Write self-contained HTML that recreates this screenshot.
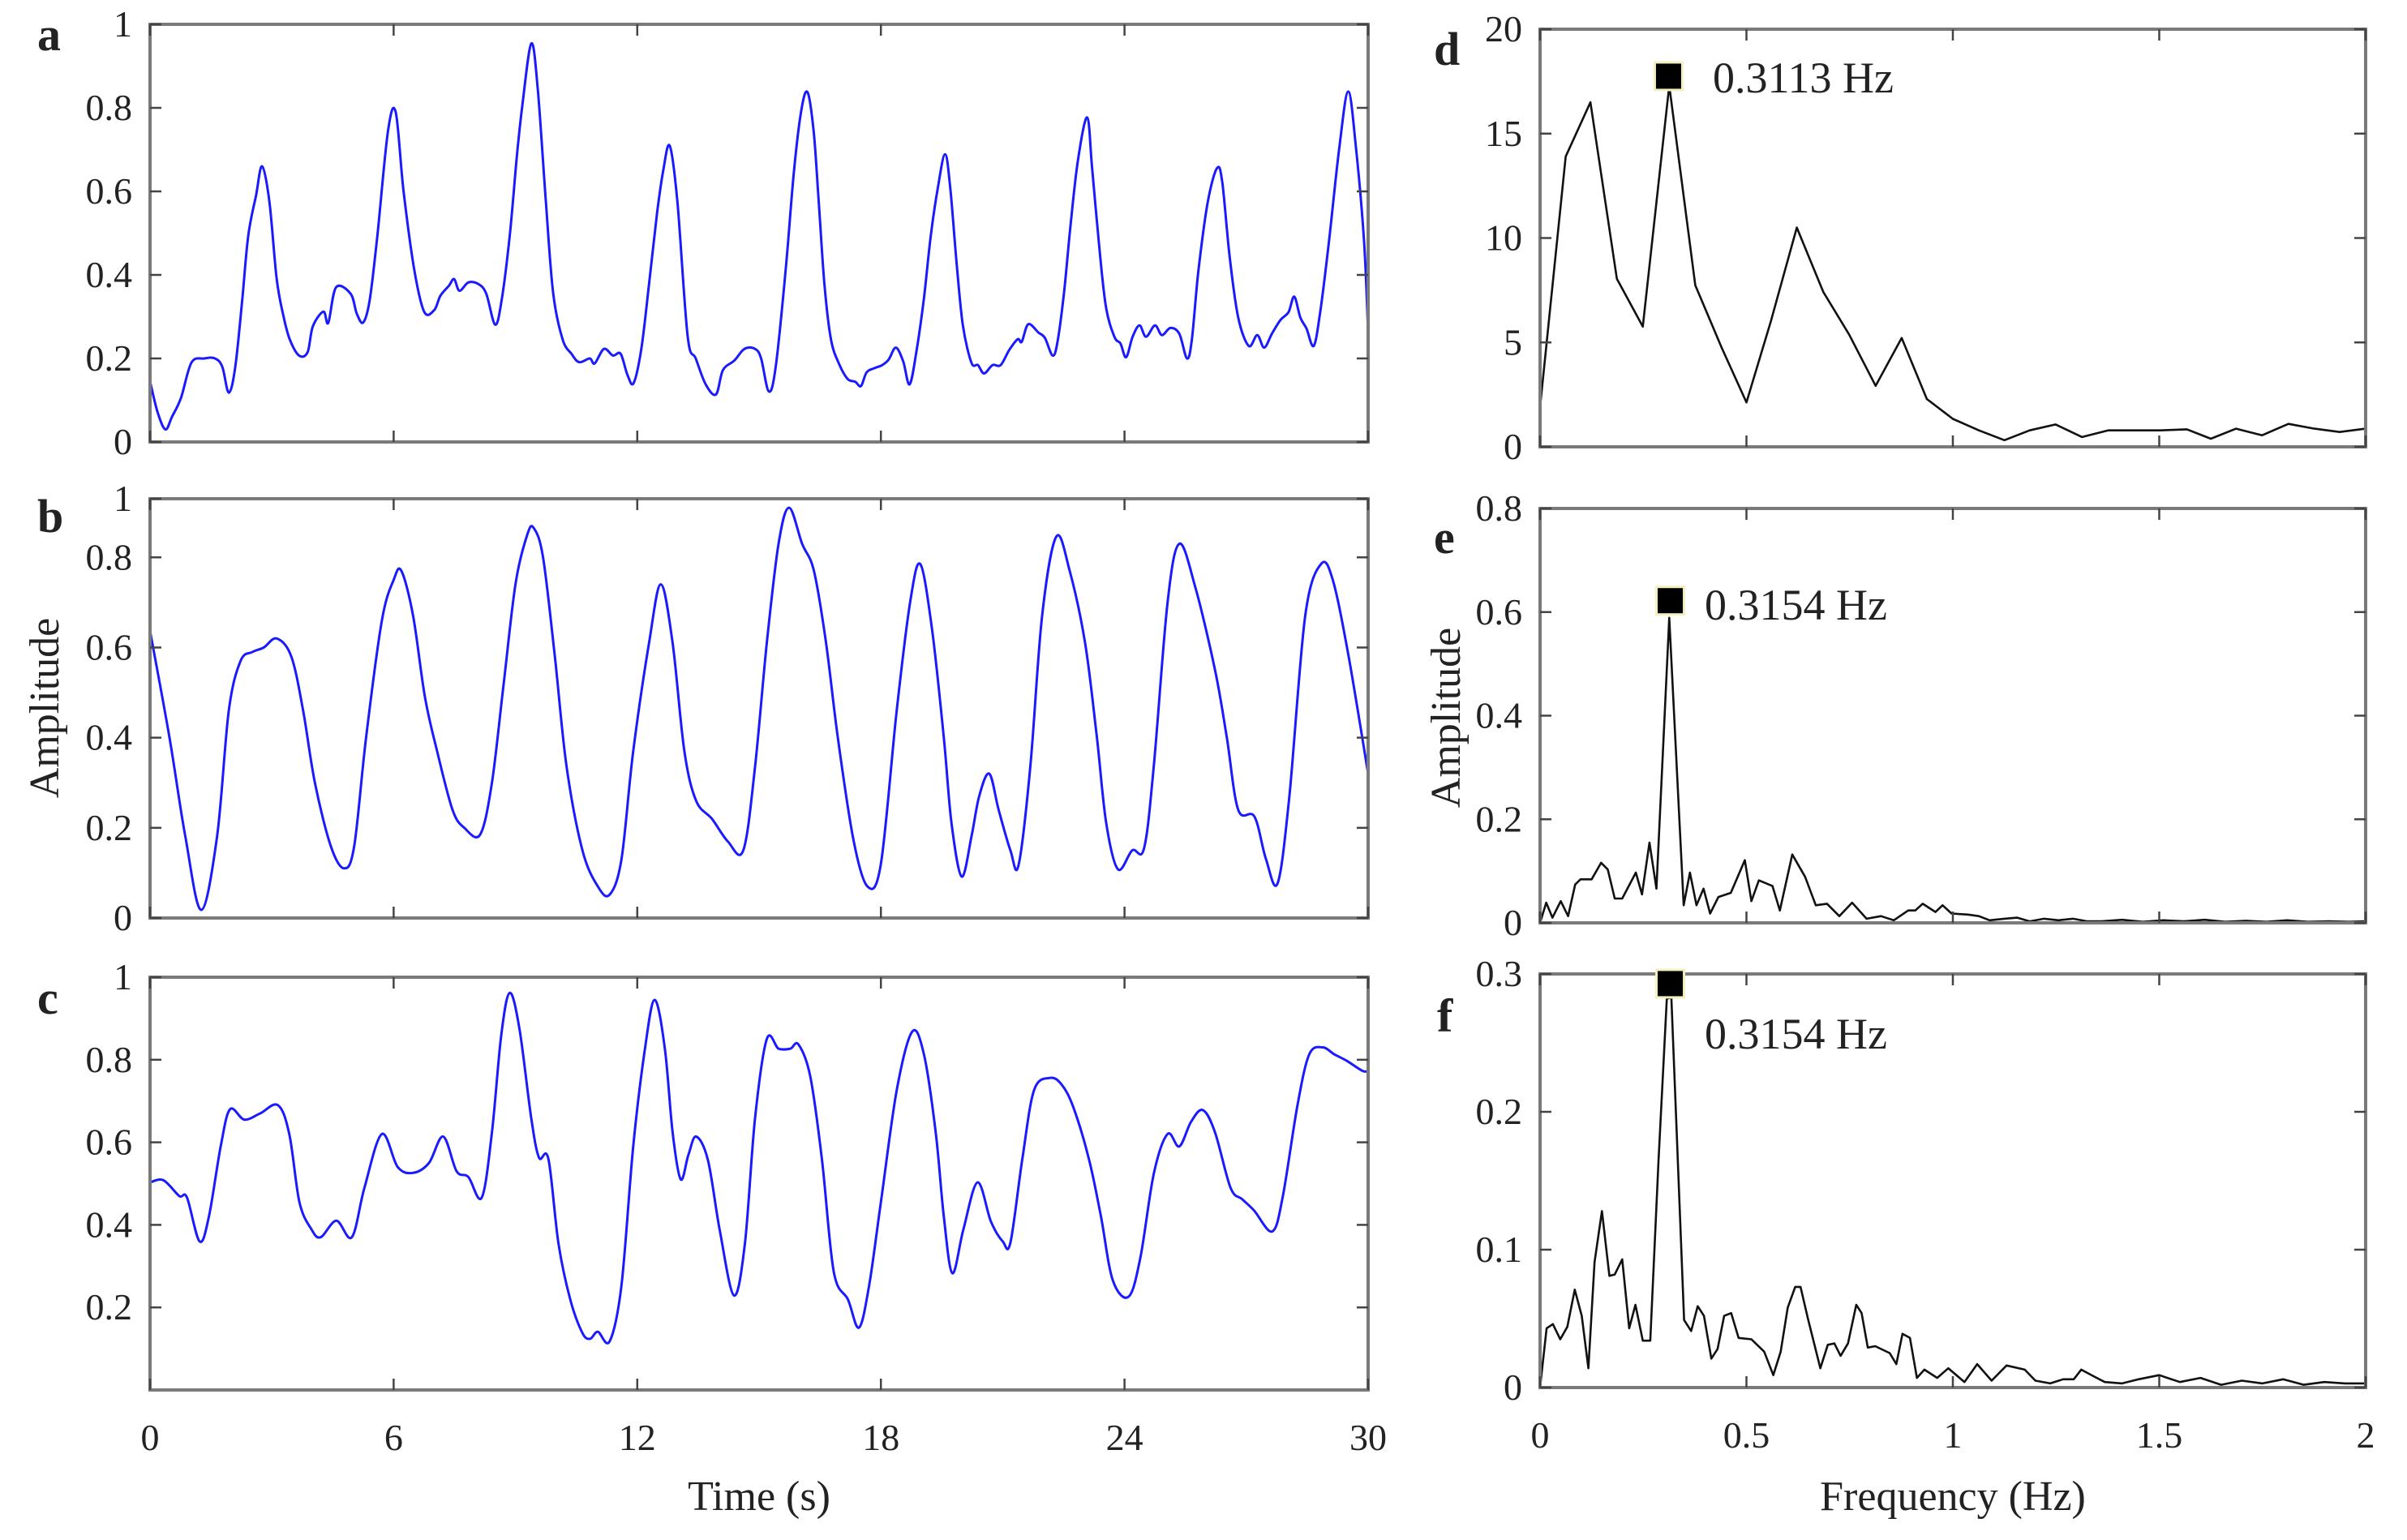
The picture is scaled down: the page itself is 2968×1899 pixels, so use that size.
<!DOCTYPE html>
<html><head><meta charset="utf-8"><title>Signals and spectra</title>
<style>
html,body{margin:0;padding:0;background:#fff;}
svg{display:block;}
text{font-family:"Liberation Serif","DejaVu Serif",serif;fill:#222;}
</style></head>
<body>
<svg id="fig" width="2968" height="1899" viewBox="0 0 2968 1899" xmlns="http://www.w3.org/2000/svg">
<rect x="0" y="0" width="2968" height="1899" fill="#fff"/>
</svg>
<script>
// ---------- data ----------
const aT=[0,0.19,0.38,0.54,0.76,1.02,1.34,1.6,1.78,1.94,2.1,2.27,2.42,2.61,2.76,2.94,3.12,3.29,3.44,3.67,3.88,4.01,4.27,4.39,4.58,4.94,5.09,5.25,5.41,5.6,5.86,6.05,6.24,6.5,6.75,7.0,7.15,7.36,7.49,7.62,7.84,8.09,8.28,8.5,8.66,8.86,9.04,9.17,9.39,9.55,9.75,9.93,10.16,10.38,10.57,10.83,10.95,11.18,11.4,11.59,11.76,11.91,12.1,12.29,12.49,12.64,12.8,12.99,13.24,13.44,13.69,13.94,14.11,14.39,14.64,14.9,15.05,15.24,15.41,15.66,15.86,16.05,16.2,16.35,16.47,16.61,16.77,16.97,17.18,17.37,17.51,17.65,17.85,18.03,18.19,18.37,18.55,18.71,18.89,19.06,19.23,19.4,19.58,19.71,19.87,20.02,20.23,20.39,20.54,20.75,20.95,21.16,21.37,21.47,21.63,21.88,22.04,22.23,22.35,22.51,22.66,22.85,23.08,23.2,23.37,23.54,23.75,23.9,24.04,24.2,24.37,24.53,24.75,24.92,25.13,25.35,25.54,25.66,25.82,26.05,26.28,26.41,26.59,26.8,27.06,27.27,27.44,27.63,27.84,28.04,28.18,28.33,28.48,28.66,28.82,29.03,29.29,29.51,29.7,29.9,30];
const aV=[0.145,0.07,0.03,0.06,0.105,0.19,0.2,0.2,0.18,0.118,0.18,0.34,0.495,0.59,0.66,0.575,0.39,0.30,0.246,0.207,0.215,0.277,0.312,0.285,0.37,0.355,0.308,0.286,0.34,0.495,0.744,0.79,0.604,0.417,0.312,0.316,0.35,0.374,0.39,0.362,0.382,0.378,0.355,0.281,0.34,0.495,0.69,0.806,0.954,0.845,0.573,0.355,0.246,0.211,0.191,0.2,0.188,0.223,0.207,0.211,0.16,0.141,0.223,0.378,0.55,0.65,0.709,0.573,0.254,0.2,0.137,0.114,0.172,0.195,0.223,0.223,0.2,0.121,0.18,0.417,0.65,0.8,0.836,0.738,0.574,0.377,0.246,0.187,0.151,0.144,0.134,0.167,0.177,0.184,0.197,0.226,0.193,0.138,0.226,0.344,0.495,0.607,0.689,0.607,0.423,0.279,0.19,0.184,0.164,0.184,0.184,0.22,0.246,0.24,0.282,0.262,0.249,0.207,0.24,0.357,0.508,0.672,0.777,0.659,0.475,0.325,0.252,0.236,0.203,0.252,0.279,0.252,0.279,0.256,0.273,0.259,0.2,0.246,0.41,0.574,0.656,0.62,0.443,0.298,0.23,0.256,0.226,0.259,0.292,0.311,0.348,0.298,0.272,0.23,0.311,0.475,0.705,0.839,0.705,0.48,0.26];

const bT=[0,0.48,0.87,1.26,1.65,1.94,2.23,2.52,2.8,3.12,3.48,3.77,4.06,4.45,4.78,5.03,5.32,5.71,6.0,6.19,6.48,6.77,7.07,7.45,7.74,8.13,8.42,8.71,9.0,9.29,9.45,9.68,9.97,10.26,10.65,11.03,11.32,11.61,11.9,12.29,12.58,12.87,13.16,13.45,13.84,14.23,14.61,14.9,15.19,15.48,15.74,16.06,16.35,16.65,16.94,17.32,17.67,18.0,18.39,18.72,18.97,19.26,19.55,19.74,19.99,20.23,20.42,20.67,20.9,21.19,21.39,21.68,21.97,22.32,22.65,23.03,23.32,23.55,23.84,24.19,24.48,24.72,25.06,25.35,25.74,26.23,26.52,26.8,27.2,27.48,27.77,28.06,28.45,28.84,29.13,29.52,30];
const bV=[0.637,0.40,0.18,0.018,0.18,0.46,0.57,0.59,0.60,0.62,0.58,0.46,0.30,0.16,0.11,0.16,0.40,0.66,0.75,0.77,0.67,0.49,0.37,0.24,0.20,0.185,0.30,0.52,0.74,0.85,0.865,0.80,0.58,0.335,0.15,0.07,0.052,0.13,0.37,0.61,0.74,0.61,0.37,0.26,0.22,0.17,0.15,0.335,0.61,0.83,0.91,0.83,0.77,0.61,0.40,0.175,0.07,0.12,0.46,0.70,0.785,0.64,0.40,0.21,0.092,0.18,0.27,0.32,0.24,0.15,0.117,0.335,0.67,0.846,0.77,0.61,0.40,0.21,0.108,0.15,0.154,0.335,0.70,0.83,0.735,0.55,0.40,0.24,0.225,0.132,0.077,0.27,0.67,0.785,0.75,0.58,0.32];

const cT=[0,0.33,0.72,0.91,1.22,1.45,1.74,1.97,2.32,2.71,3.15,3.43,3.68,3.97,4.2,4.59,4.97,5.28,5.71,6.1,6.48,6.87,7.22,7.55,7.84,8.17,8.42,8.65,8.86,9.1,9.39,9.58,9.81,10.06,10.35,10.65,10.84,11.03,11.32,11.61,11.9,12.19,12.43,12.68,12.87,13.07,13.26,13.45,13.74,14.03,14.38,14.65,14.9,15.19,15.48,15.77,15.97,16.26,16.55,16.84,17.19,17.46,17.71,18.0,18.39,18.77,19.06,19.35,19.55,19.76,20.03,20.38,20.71,21.0,21.19,21.48,21.77,22.16,22.45,22.74,23.13,23.42,23.71,24.1,24.39,24.72,25.06,25.35,25.64,25.93,26.23,26.61,26.9,27.19,27.64,27.9,28.26,28.55,28.88,29.17,29.48,29.86,30];
const cV=[0.503,0.508,0.47,0.466,0.36,0.42,0.59,0.68,0.655,0.67,0.69,0.62,0.455,0.39,0.37,0.41,0.37,0.49,0.62,0.54,0.526,0.55,0.614,0.53,0.516,0.466,0.624,0.86,0.962,0.874,0.658,0.563,0.56,0.354,0.219,0.138,0.124,0.141,0.118,0.253,0.59,0.827,0.945,0.827,0.624,0.51,0.57,0.614,0.557,0.388,0.229,0.354,0.658,0.85,0.827,0.827,0.837,0.76,0.557,0.286,0.219,0.151,0.253,0.455,0.726,0.868,0.813,0.624,0.42,0.283,0.388,0.503,0.408,0.36,0.357,0.557,0.726,0.756,0.74,0.685,0.557,0.42,0.266,0.226,0.32,0.523,0.62,0.59,0.65,0.678,0.624,0.49,0.462,0.435,0.384,0.47,0.69,0.813,0.83,0.813,0.797,0.773,0.773];

const dF=[0,0.062,0.122,0.186,0.249,0.313,0.376,0.44,0.5,0.559,0.622,0.686,0.749,0.813,0.876,0.937,1.0,1.063,1.125,1.186,1.249,1.313,1.376,1.44,1.503,1.567,1.625,1.686,1.749,1.813,1.876,1.937,2.0];
const dV=[1.9,13.9,16.5,8.05,5.76,17.3,7.74,4.74,2.13,6.0,10.5,7.42,5.37,2.92,5.21,2.29,1.34,0.79,0.32,0.79,1.07,0.47,0.79,0.79,0.79,0.84,0.39,0.87,0.55,1.1,0.87,0.71,0.87];
const dPeak=[0.3113,17.75];

const eF=[0,0.015,0.03,0.05,0.068,0.085,0.098,0.125,0.148,0.164,0.181,0.199,0.232,0.247,0.265,0.282,0.313,0.348,0.363,0.379,0.396,0.412,0.432,0.462,0.496,0.512,0.53,0.563,0.581,0.611,0.642,0.668,0.695,0.725,0.756,0.791,0.826,0.857,0.892,0.909,0.927,0.958,0.975,0.997,1.037,1.063,1.089,1.125,1.156,1.186,1.221,1.256,1.291,1.326,1.36,1.41,1.46,1.51,1.56,1.61,1.66,1.71,1.76,1.81,1.86,1.91,1.96,2.0];
const eV=[0,0.039,0.01,0.042,0.013,0.074,0.084,0.084,0.116,0.103,0.047,0.047,0.097,0.055,0.155,0.066,0.589,0.034,0.097,0.034,0.066,0.018,0.05,0.058,0.121,0.042,0.082,0.071,0.024,0.132,0.089,0.034,0.037,0.013,0.039,0.008,0.013,0.005,0.024,0.024,0.037,0.021,0.034,0.018,0.016,0.013,0.005,0.008,0.01,0.003,0.008,0.005,0.008,0.003,0.003,0.006,0.002,0.005,0.003,0.006,0.002,0.004,0.002,0.005,0.002,0.003,0.002,0.003];
const ePeak=[0.3154,0.622];

const fF=[0,0.016,0.031,0.049,0.066,0.084,0.101,0.117,0.132,0.15,0.168,0.181,0.199,0.216,0.231,0.249,0.267,0.287,0.307,0.318,0.331,0.349,0.366,0.382,0.397,0.415,0.43,0.446,0.463,0.481,0.512,0.543,0.565,0.583,0.6,0.618,0.631,0.649,0.679,0.697,0.713,0.728,0.746,0.766,0.779,0.794,0.812,0.847,0.863,0.878,0.896,0.913,0.931,0.962,0.989,1.028,1.059,1.094,1.13,1.174,1.2,1.236,1.267,1.293,1.311,1.342,1.368,1.41,1.45,1.5,1.55,1.6,1.65,1.7,1.75,1.8,1.85,1.9,1.95,2.0];
const fV=[0,0.043,0.046,0.035,0.044,0.071,0.052,0.014,0.091,0.128,0.081,0.082,0.093,0.043,0.06,0.034,0.034,0.165,0.282,0.283,0.185,0.049,0.041,0.059,0.052,0.021,0.028,0.052,0.054,0.036,0.035,0.026,0.009,0.026,0.058,0.073,0.073,0.05,0.014,0.031,0.032,0.023,0.032,0.06,0.054,0.029,0.03,0.025,0.017,0.039,0.036,0.007,0.013,0.007,0.014,0.004,0.017,0.005,0.016,0.013,0.005,0.003,0.006,0.006,0.013,0.008,0.004,0.003,0.006,0.009,0.004,0.007,0.002,0.005,0.003,0.006,0.002,0.004,0.003,0.003];
const fPeak=[0.3154,0.293];

const timeTicks=[0,6,12,18,24,30];
const timeTickLabels=['0','6','12','18','24','30'];
const freqTicks=[0,0.5,1,1.5,2];
const freqTickLabels=['0','0.5','1','1.5','2'];
const ampTicksA=[0,0.2,0.4,0.6,0.8,1];
const ampLabelsA=['0','0.2','0.4','0.6','0.8','1'];
const ampTicksB=[0,0.2,0.4,0.6,0.8,0.93];
const ampLabelsB=['0','0.2','0.4','0.6','0.8','1'];
const ampTicksC=[0.2,0.4,0.6,0.8,1];
const ampLabelsC=['0.2','0.4','0.6','0.8','1'];
const dTicks=[0,5,10,15,20];
const dTickLabels=['0','5','10','15','20'];
const eTicks=[0,0.2,0.4,0.6,0.8];
const eTickLabels=['0','0.2','0.4','0.6','0.8'];
const fTicks=[0,0.1,0.2,0.3];
const fTickLabels=['0','0.1','0.2','0.3'];

// ---------- drawing ----------
const NS='http://www.w3.org/2000/svg';
const svg=document.getElementById('fig');
function mk(tag,attrs,parent){const e=document.createElementNS(NS,tag);for(const k in attrs)e.setAttribute(k,attrs[k]);(parent||svg).appendChild(e);return e;}
function txt(s,attrs,parent){const e=mk('text',attrs,parent);e.textContent=s;return e;}

function smoothPath(pts){
  let d='M'+pts[0][0].toFixed(1)+','+pts[0][1].toFixed(1);
  for(let i=0;i<pts.length-1;i++){
    const p0=pts[Math.max(0,i-1)],p1=pts[i],p2=pts[i+1],p3=pts[Math.min(pts.length-1,i+2)];
    const c1x=p1[0]+(p2[0]-p0[0])/6,c1y=p1[1]+(p2[1]-p0[1])/6;
    const c2x=p2[0]-(p3[0]-p1[0])/6,c2y=p2[1]-(p3[1]-p1[1])/6;
    d+=' C'+c1x.toFixed(1)+','+c1y.toFixed(1)+' '+c2x.toFixed(1)+','+c2y.toFixed(1)+' '+p2[0].toFixed(1)+','+p2[1].toFixed(1);
  }
  return d;
}

function panel(cfg){
  const g=mk('g',{});
  
  
  const L=cfg.x0,R=cfg.x1,T=cfg.y0,B=cfg.y1;
  const sx=v=>L+(v-cfg.xmin)/(cfg.xmax-cfg.xmin)*(R-L);
  const sy=v=>B-(v-cfg.ymin)/(cfg.ymax-cfg.ymin)*(B-T);
  // series
  const clip=mk('clipPath',{id:'clip-'+cfg.name},g);
  mk('rect',{x:L,y:T-2,width:R-L,height:B-T+4},clip);
  const pts=cfg.xs.map((x,i)=>[sx(x),sy(cfg.ys[i])]);
  const d=cfg.smooth?smoothPath(pts):'M'+pts.map(p=>p[0].toFixed(1)+','+p[1].toFixed(1)).join(' L');
  const line=mk('path',{d:d,fill:'none',stroke:cfg.color,'stroke-width':cfg.lw,'stroke-linejoin':'round','clip-path':'url(#clip-'+cfg.name+')'},g);
  
  
  // frame
  const fr=mk('rect',{x:L,y:T,width:R-L,height:B-T,fill:'none',stroke:'#7a7a7a','stroke-width':4},g);
  
  
  const tl=14;
  cfg.xticks.forEach((v,i)=>{
    const x=sx(v);
    mk('line',{x1:x,y1:B,x2:x,y2:B-tl,stroke:'#444','stroke-width':2.5},g);
    mk('line',{x1:x,y1:T,x2:x,y2:T+tl,stroke:'#444','stroke-width':2.5},g);
    if(cfg.xlabels){
      const t=txt(cfg.xlabels[i],{x:x,y:B+74,'font-size':46,'text-anchor':'middle'},g);
      
      
    }
  });
  cfg.yticks.forEach((v,i)=>{
    const y=sy(v);
    mk('line',{x1:L,y1:y,x2:L+tl,y2:y,stroke:'#444','stroke-width':2.5},g);
    mk('line',{x1:R,y1:y,x2:R-tl,y2:y,stroke:'#444','stroke-width':2.5},g);
    const t=txt(cfg.ylabels[i],{x:L-22,y:y+15,'font-size':46,'text-anchor':'end'},g);
    
    
  });
  // letter
  const lt=txt(cfg.letter,{x:cfg.lx,y:cfg.ly,'font-size':58,'font-weight':'bold','fill':'#000'},g);
  
  
  // peak marker
  if(cfg.peak){
    const px=sx(cfg.peak[0]),py=sy(cfg.peak[1]);
    const m=mk('rect',{x:px-17,y:py-17,width:34,height:34,fill:'#000',stroke:'#f3efc0','stroke-width':3},g);
    
    
    const pl=txt(cfg.peak[0].toFixed(4)+' Hz',{x:cfg.plx,y:cfg.ply,'font-size':54},g);
    
    
  }
}

const LX0=185,LX1=1687,RX0=1899,RX1=2917;
panel({name:'panel-a',letter:'a',lx:46,ly:62,x0:LX0,x1:LX1,y0:30,y1:545,xmin:0,xmax:30,ymin:0,ymax:1,xs:aT,ys:aV,smooth:true,color:'#1a1aff',lw:3,xticks:timeTicks,yticks:ampTicksA,ylabels:ampLabelsA});
panel({name:'panel-b',letter:'b',lx:46,ly:656,x0:LX0,x1:LX1,y0:615,y1:1132,xmin:0,xmax:30,ymin:0,ymax:0.93,xs:bT,ys:bV,smooth:true,color:'#1a1aff',lw:3,xticks:timeTicks,yticks:ampTicksB,ylabels:ampLabelsB});
panel({name:'panel-c',letter:'c',lx:46,ly:1250,x0:LX0,x1:LX1,y0:1205,y1:1714,xmin:0,xmax:30,ymin:0,ymax:1,xs:cT,ys:cV,smooth:true,color:'#1a1aff',lw:3,xticks:timeTicks,xlabels:timeTickLabels,yticks:ampTicksC,ylabels:ampLabelsC});
panel({name:'panel-d',letter:'d',lx:1768,ly:80,x0:RX0,x1:RX1,y0:36,y1:551,xmin:0,xmax:2,ymin:0,ymax:20,xs:dF,ys:dV,smooth:false,color:'#111',lw:2.6,xticks:freqTicks,yticks:dTicks,ylabels:dTickLabels,peak:dPeak,plx:2112,ply:114});
panel({name:'panel-e',letter:'e',lx:1768,ly:682,x0:RX0,x1:RX1,y0:627,y1:1138,xmin:0,xmax:2,ymin:0,ymax:0.8,xs:eF,ys:eV,smooth:false,color:'#111',lw:2.6,xticks:freqTicks,yticks:eTicks,ylabels:eTickLabels,peak:ePeak,plx:2102,ply:764});
panel({name:'panel-f',letter:'f',lx:1772,ly:1272,x0:RX0,x1:RX1,y0:1201,y1:1711,xmin:0,xmax:2,ymin:0,ymax:0.3,xs:fF,ys:fV,smooth:false,color:'#111',lw:2.6,xticks:freqTicks,xlabels:freqTickLabels,yticks:fTicks,ylabels:fTickLabels,peak:fPeak,plx:2102,ply:1293});

// axis titles
let t;
t=txt('Time (s)',{x:936,y:1862,'font-size':52,'text-anchor':'middle'});


t=txt('Frequency (Hz)',{x:2408,y:1862,'font-size':52,'text-anchor':'middle'});


t=txt('Amplitude',{x:0,y:0,'font-size':52,'text-anchor':'middle',transform:'translate(72,873) rotate(-90)'});


t=txt('Amplitude',{x:0,y:0,'font-size':52,'text-anchor':'middle',transform:'translate(1800,885) rotate(-90)'});


</script>
</body></html>
